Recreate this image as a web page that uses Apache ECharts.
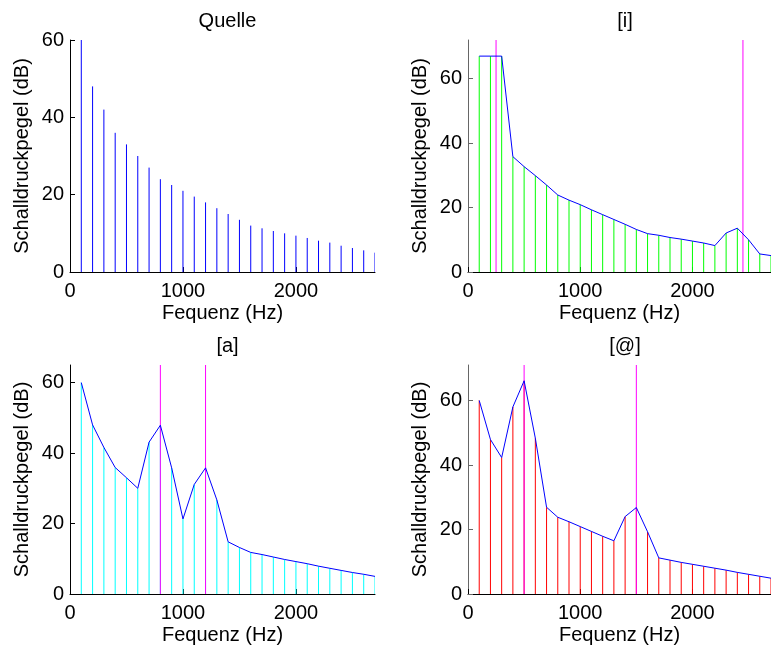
<!DOCTYPE html>
<html>
<head>
<meta charset="utf-8">
<script src="https://cdn.jsdelivr.net/npm/echarts@6/dist/echarts.min.js"></script>
<style>html,body{margin:0;padding:0;background:#fff}#c{width:771px;height:650px}</style>
</head>
<body>
<div id="c"></div>
<script>
// ---- data ----
const freqs = [100,200,300,400,500,600,700,800,900,1000,1100,1200,1300,1400,1500,1600,1700,1800,1900,2000,2100,2200,2300,2400,2500,2600,2700];
const quelle = [60,48,42,36,33,30,27,24,22.5,21,19.5,18,16.5,15,13.5,12,11.3,10.6,10,9.4,8.8,8.1,7.6,6.8,6.2,5.6,5];
const vowelI = [67,67,67,35.8,32.7,29.9,27,23.9,22.3,20.9,19.3,17.8,16.3,14.8,13.2,11.9,11.4,10.7,10.2,9.6,9.0,8.2,12.1,13.6,10.0,5.6,5.1];
const vowelA = [60,48,41.6,35.9,33,30,43.1,47.9,35.8,21.3,31.1,35.8,26.7,14.8,13.2,11.8,11.2,10.5,9.8,9.2,8.6,7.9,7.3,6.7,6.1,5.6,5.0];
const vowelSchwa = [60,47.9,42.3,58,66.1,48.3,26.9,23.8,22.4,20.9,19.4,17.9,16.5,24.0,26.8,19.3,11.2,10.5,9.8,9.2,8.6,8.0,7.4,6.7,6.1,5.5,4.9];
const formantsI = [250, 2450];
const formantsA = [800, 1200];
const formantsSchwa = [500, 1500];
const titles = ['Quelle', '[i]', '[a]', '[@]'];
const yMax = [60, 72, 65, 71];
const xTicks = [0, 1000, 2000];
const yTicks = [0, 20, 40, 60];
const xMax = 2700;

// ---- layout / style ----
const FONT = 'Liberation Sans, Arial, sans-serif';
const FS = 20;
const grids = [
  {left: 70, top: 40, width: 305, height: 232},
  {left: 468, top: 40, width: 304, height: 232},
  {left: 70, top: 365, width: 305, height: 229},
  {left: 468, top: 365, width: 304, height: 229}
];
const panels = [
  {vals: quelle, stem: '#0000ff', line: false, formants: []},
  {vals: vowelI, stem: '#00ff00', line: true, formants: formantsI},
  {vals: vowelA, stem: '#00ffff', line: true, formants: formantsA},
  {vals: vowelSchwa, stem: '#ff0000', line: true, formants: formantsSchwa}
];
const yAxisColors = ['#000', '#666', '#000', '#666'];

const option = {
  animation: false,
  backgroundColor: '#fff',
  title: [],
  grid: [],
  xAxis: [],
  yAxis: [],
  series: []
};

function stemRenderer(color) {
  return function (params, api) {
    const p0 = api.coord([api.value(0), 0]);
    const p1 = api.coord([api.value(0), api.value(1)]);
    return {type: 'line', shape: {x1: p0[0], y1: p0[1], x2: p1[0], y2: p1[1]},
            style: {stroke: color, lineWidth: 1}};
  };
}

panels.forEach((p, i) => {
  const g = grids[i];
  option.grid.push(Object.assign({containLabel: false}, g));
  option.title.push({
    text: titles[i], left: g.left + g.width / 2, top: g.top - 34,
    textAlign: 'center',
    textStyle: {fontFamily: FONT, fontSize: FS, fontWeight: 'normal', color: '#000'}
  });
  option.xAxis.push({
    type: 'value', gridIndex: i, min: 0, max: xMax, interval: 1000,
    name: 'Fequenz (Hz)', nameLocation: 'middle', nameGap: 31,
    nameTextStyle: {fontFamily: FONT, fontSize: FS, color: '#000'},
    axisLine: {show: true, lineStyle: {color: '#000', width: 1}},
    axisTick: {show: true, inside: true, length: 5, lineStyle: {color: '#000'}},
    axisLabel: {fontFamily: FONT, fontSize: FS, color: '#000', margin: 9,
      showMaxLabel: false,
      formatter: v => xTicks.indexOf(v) >= 0 ? String(v) : ''},
    splitLine: {show: false}
  });
  option.yAxis.push({
    type: 'value', gridIndex: i, min: 0, max: yMax[i], interval: 20,
    name: 'Schalldruckpegel (dB)', nameLocation: 'middle', nameGap: 38, nameRotate: 90,
    nameTextStyle: {fontFamily: FONT, fontSize: FS, color: '#000'},
    axisLine: {show: true, lineStyle: {color: yAxisColors[i], width: 1}},
    axisTick: {show: true, inside: true, length: 5, lineStyle: {color: yAxisColors[i]}},
    axisLabel: {fontFamily: FONT, fontSize: FS, color: '#000', margin: 6,
      showMaxLabel: yTicks.indexOf(yMax[i]) >= 0,
      formatter: v => yTicks.indexOf(v) >= 0 ? String(v) : ''},
    splitLine: {show: false}
  });
  option.series.push({
    type: 'custom', xAxisIndex: i, yAxisIndex: i,
    renderItem: stemRenderer(p.stem),
    encode: {x: 0, y: 1},
    data: freqs.map((f, k) => [f, p.vals[k]]),
    clip: true, z: 2
  });
  if (p.formants.length) {
    option.series.push({
      type: 'custom', xAxisIndex: i, yAxisIndex: i,
      renderItem: stemRenderer('#ff00ff'),
      encode: {x: 0, y: 1},
      data: p.formants.map(f => [f, yMax[i]]),
      clip: true, z: 3
    });
  }
  if (p.line) {
    option.series.push({
      type: 'line', xAxisIndex: i, yAxisIndex: i,
      data: freqs.map((f, k) => [f, p.vals[k]]),
      symbol: 'none', lineStyle: {color: '#0000ff', width: 1}, itemStyle: {color: '#0000ff'},
      clip: true, z: 4
    });
  }
});

const chart = echarts.init(document.getElementById('c'), null, {renderer: 'canvas'});
chart.setOption(option);
</script>
</body>
</html>
